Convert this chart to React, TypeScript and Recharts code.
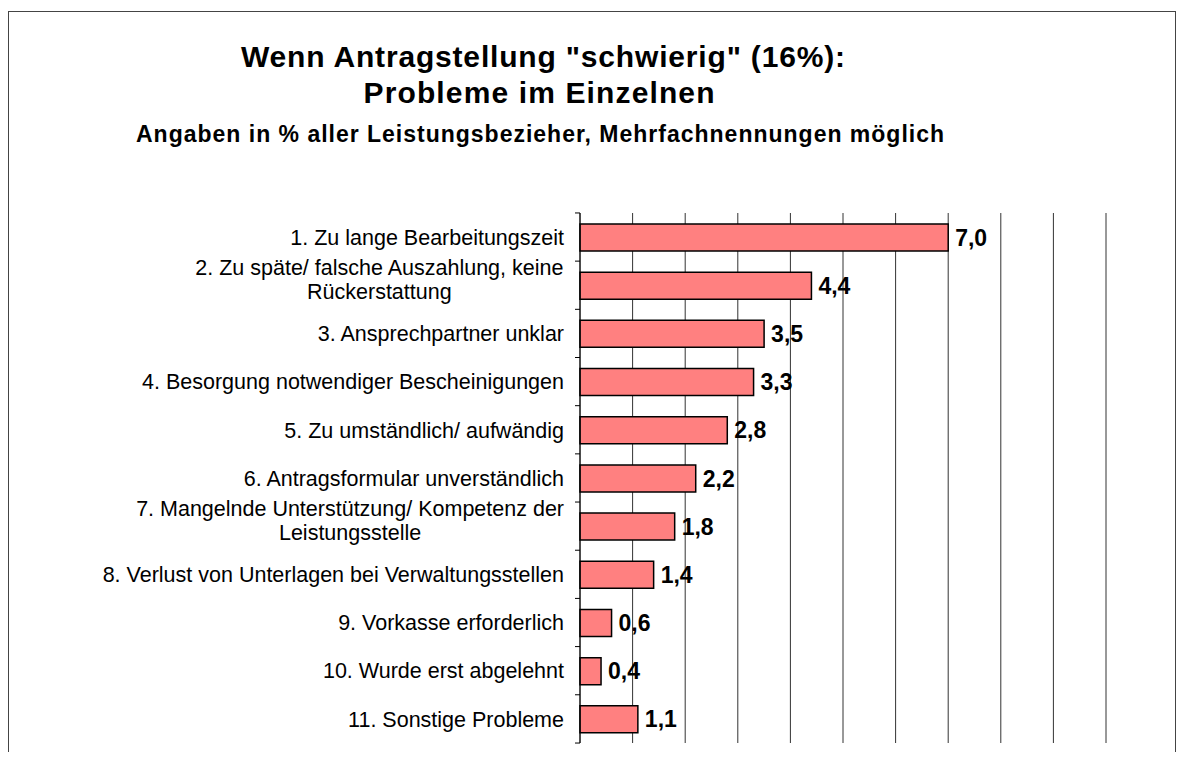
import { BarChart, Bar, XAxis, YAxis, CartesianGrid, LabelList } from "recharts";

const categories = [
  "1. Zu lange Bearbeitungszeit",
  "2. Zu späte/ falsche Auszahlung, keine\nRückerstattung",
  "3. Ansprechpartner unklar",
  "4. Besorgung notwendiger Bescheinigungen",
  "5. Zu umständlich/ aufwändig",
  "6. Antragsformular unverständlich",
  "7. Mangelnde Unterstützung/ Kompetenz der\nLeistungsstelle",
  "8. Verlust von Unterlagen bei Verwaltungsstellen",
  "9. Vorkasse erforderlich",
  "10. Wurde erst abgelehnt",
  "11. Sonstige Probleme",
];
const values = [7.0, 4.4, 3.5, 3.3, 2.8, 2.2, 1.8, 1.4, 0.6, 0.4, 1.1];
const xTicks = [0, 1, 2, 3, 4, 5, 6, 7, 8, 9, 10];

const titleLines = ['Wenn Antragstellung "schwierig" (16%):', "Probleme im Einzelnen"];
const subtitle = "Angaben in % aller Leistungsbezieher, Mehrfachnennungen möglich";

const W = 1168;
const H = 744;
const margin = { top: 205, right: 70, bottom: 8, left: 0 };
const axisW = 572;
const band = (H - margin.top - margin.bottom) / categories.length;
const FONT = '"Liberation Sans", Arial, sans-serif';
const labelSize = 21.5;

let ctx: CanvasRenderingContext2D | null = null;
function measure(text: string) {
  if (!ctx) ctx = document.createElement("canvas").getContext("2d");
  if (!ctx) return text.length * labelSize * 0.5;
  ctx.font = `${labelSize}px "Liberation Sans"`;
  return ctx.measureText(text).width;
}

// x axis is only there to drive the grid, its ticks are not drawn
const NoTick = () => <g />;

function CategoryTick(props: any) {
  const { x, y, payload, index } = props;
  const lines: string[] = String(payload.value).split("\n");
  const right = x - 16;
  const maxW = Math.max(...lines.map(measure));
  const lineH = 24;
  const y0 = lines.length > 1 ? y - 6 - ((lines.length - 1) * lineH) / 2 : y;
  return (
    <g>
      <line x1={x - 5} x2={x} y1={y - band / 2} y2={y - band / 2} stroke="#000" />
      {index === categories.length - 1 && (
        <line x1={x - 5} x2={x} y1={y + band / 2} y2={y + band / 2} stroke="#000" />
      )}
      {lines.map((l, i) => (
        <text
          key={i}
          x={lines.length > 1 ? right - maxW / 2 : right}
          y={y0 + i * lineH}
          dy="0.36em"
          textAnchor={lines.length > 1 ? "middle" : "end"}
          fontSize={labelSize}
          fontFamily={FONT}
          fill="#000"
        >
          {l}
        </text>
      ))}
    </g>
  );
}

export default function App() {
  const data = categories.map((c, i) => ({ label: c, value: values[i] }));

  return (
    <div style={{ position: "relative", width: W, height: H, overflow: "hidden", fontFamily: FONT }}>
      <div
        style={{
          position: "absolute",
          left: 0,
          top: 3,
          width: W,
          height: 800,
          border: "1px solid #444",
          boxSizing: "border-box",
        }}
      />
      <div style={{ position: "absolute", left: 0, top: 0 }}>
        <BarChart width={W} height={H} data={data} layout="vertical" margin={margin}>
          <CartesianGrid horizontal={false} stroke="#333" strokeWidth={1} />
          <XAxis
            type="number"
            domain={[0, 10]}
            ticks={xTicks}
            tick={<NoTick />}
            axisLine={false}
            tickLine={false}
            height={1}
          />
          <YAxis
            type="category"
            dataKey="label"
            width={axisW}
            tickSize={0}
            tickMargin={0}
            tickLine={false}
            axisLine={{ stroke: "#000" }}
            interval={0}
            tick={<CategoryTick />}
          />
          <Bar
            dataKey="value"
            fill="#FF8080"
            stroke="#000"
            strokeWidth={1.5}
            barSize={27}
            isAnimationActive={false}
          >
            <LabelList
              dataKey="value"
              position="right"
              offset={7}
              formatter={(v: any) => Number(v).toFixed(1).replace(".", ",")}
              style={{ fontSize: 23, fontWeight: "bold", fill: "#000", fontFamily: FONT }}
            />
          </Bar>
        </BarChart>
      </div>
      <svg
        width={W}
        height={160}
        style={{ position: "absolute", left: 0, top: 0, pointerEvents: "none" }}
      >
        <text
          x={535}
          y={59}
          textAnchor="middle"
          fontSize={30}
          fontWeight="bold"
          fontFamily={FONT}
          textLength={604}
          lengthAdjust="spacing"
        >
          {titleLines[0]}
        </text>
        <text
          x={531}
          y={95}
          textAnchor="middle"
          fontSize={30}
          fontWeight="bold"
          fontFamily={FONT}
          textLength={351}
          lengthAdjust="spacing"
        >
          {titleLines[1]}
        </text>
        <text
          x={532}
          y={134}
          textAnchor="middle"
          fontSize={23}
          fontWeight="bold"
          fontFamily={FONT}
          textLength={808}
          lengthAdjust="spacing"
        >
          {subtitle}
        </text>
      </svg>
    </div>
  );
}
